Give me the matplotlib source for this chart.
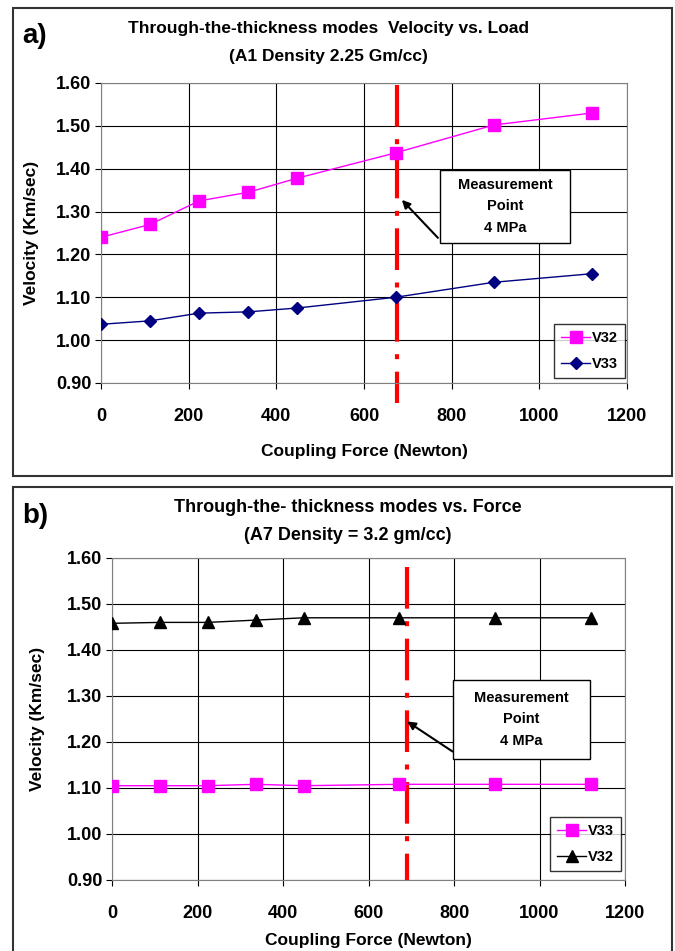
import matplotlib
matplotlib.use('Agg')
import matplotlib.pyplot as plt
from matplotlib.patches import Rectangle

plt.rcParams['font.family'] = ['Liberation Sans', 'DejaVu Sans']
plt.rcParams['font.weight'] = 'bold'

# 数据 (a)
force_a = [0, 112, 224, 336, 448, 672, 896, 1120]
v32_a = [1.24, 1.27, 1.325, 1.345, 1.378, 1.437, 1.502, 1.53]
v33_a = [1.037, 1.045, 1.063, 1.066, 1.075, 1.10, 1.135, 1.155]
mark_a = 675

# 数据 (b)
force_b = [0, 112, 224, 336, 448, 672, 896, 1120]
v33_b = [1.105, 1.105, 1.105, 1.108, 1.105, 1.108, 1.108, 1.108]
v32_b = [1.458, 1.46, 1.46, 1.465, 1.47, 1.47, 1.47, 1.47]
mark_b = 690

y_ticks = [0.90, 1.00, 1.10, 1.20, 1.30, 1.40, 1.50, 1.60]
x_ticks = [0, 200, 400, 600, 800, 1000, 1200]

fig = plt.figure(figsize=(6.75, 9.51), dpi=100)

# 外框
fig.patches.append(Rectangle((13/675, 1-476/951), 659/675, 468/951, transform=fig.transFigure,
                             fill=False, edgecolor='#333333', linewidth=1.5))
fig.patches.append(Rectangle((13/675, 1-960/951), 659/675, 473/951, transform=fig.transFigure,
                             fill=False, edgecolor='#333333', linewidth=1.5))

red_style = (0, (10, 3, 1.2, 3))


def style_axis(ax):
    ax.set_xlim(0, 1200)
    ax.set_ylim(0.90, 1.60)
    ax.set_xticks(x_ticks)
    ax.set_yticks(y_ticks)
    ax.set_yticklabels(['%.2f' % t for t in y_ticks])
    ax.grid(True, color='black', linewidth=0.8)
    ax.set_axisbelow(True)
    for s in ax.spines:
        ax.spines[s].set_color('#808080')
    ax.tick_params(axis='x', direction='out', length=4, pad=14, labelsize=13)
    ax.tick_params(axis='y', direction='out', length=4, pad=3, labelsize=13)
    for lab in ax.get_xticklabels() + ax.get_yticklabels():
        lab.set_fontweight('bold')
    ax.set_xlabel('Coupling Force (Newton)', fontsize=12.5, fontweight='bold')
    ax.set_ylabel('Velocity (Km/sec)', fontsize=12.5, fontweight='bold')


def measure_box(ax, x0, x1, y0, y1):
    ax.add_patch(Rectangle((x0, y0), x1 - x0, y1 - y0, facecolor='white', edgecolor='black',
                           linewidth=1, zorder=6, clip_on=False))
    ax.text((x0 + x1) / 2, (y0 + y1) / 2, 'Measurement\nPoint\n4 MPa', ha='center', va='center',
            fontsize=10.5, fontweight='bold', linespacing=1.7, zorder=7)


# ---- (a) ----
ax1 = fig.add_axes([101/675, 1-383/951, 526/675, 300/951])
ax1.plot(force_a, v32_a, color='#ff00ff', marker='s', markersize=8, linewidth=1, label='V32', zorder=3)
ax1.plot(force_a, v33_a, color='#000080', marker='D', markersize=6, linewidth=1, label='V33', zorder=3)
ax1.plot([mark_a, mark_a], [1.595, 0.853], color='red', linewidth=3, linestyle=red_style,
         clip_on=False, zorder=2)
style_axis(ax1)
ax1.xaxis.labelpad = 14
ax1.yaxis.labelpad = 12
leg = ax1.legend(loc='lower right', bbox_to_anchor=(0.996, 0.017), fontsize=10.5, frameon=True, fancybox=False,
                 edgecolor='black', handlelength=2, borderpad=0.5, labelspacing=0.8, handletextpad=0.1,
                 borderaxespad=0)
leg.get_frame().set_linewidth(1)
measure_box(ax1, 773, 1070, 1.227, 1.397)
ax1.annotate('', xy=(682, 1.332), xytext=(773, 1.234),
             arrowprops=dict(arrowstyle='-|>', color='black', linewidth=1.5, mutation_scale=12), zorder=8)
fig.text(22/675, 1-36/951, 'a)', fontsize=20, fontweight='bold', ha='left', va='center')
fig.text(328/675, 1-28/951, 'Through-the-thickness modes  Velocity vs. Load', fontsize=12.5, fontweight='bold',
         ha='center', va='center')
fig.text(328/675, 1-56/951, '(A1 Density 2.25 Gm/cc)', fontsize=12.5, fontweight='bold',
         ha='center', va='center')

# ---- (b) ----
ax2 = fig.add_axes([112/675, 1-880/951, 513/675, 322/951])
ax2.plot(force_b, v33_b, color='#ff00ff', marker='s', markersize=9, linewidth=1, label='V33', zorder=3)
ax2.plot(force_b, v32_b, color='black', marker='^', markersize=9, linewidth=1, label='V32', zorder=3)
ax2.plot([mark_b, mark_b], [1.58, 0.90], color='red', linewidth=3, linestyle=red_style,
         clip_on=False, zorder=2)
style_axis(ax2)
ax2.xaxis.labelpad = 8
ax2.yaxis.labelpad = 16
leg2 = ax2.legend(loc='lower right', bbox_to_anchor=(0.992, 0.028), fontsize=10.5, frameon=True, fancybox=False,
                  edgecolor='black', handlelength=2, borderpad=0.5, labelspacing=0.8, handletextpad=0.1,
                  borderaxespad=0)
leg2.get_frame().set_linewidth(1)
measure_box(ax2, 798, 1118, 1.163, 1.335)
ax2.annotate('', xy=(685, 1.248), xytext=(802, 1.176),
             arrowprops=dict(arrowstyle='-|>', color='black', linewidth=1.5, mutation_scale=12), zorder=8)
fig.text(22/675, 1-516/951, 'b)', fontsize=20, fontweight='bold', ha='left', va='center')
fig.text(348/675, 1-508/951, 'Through-the- thickness modes vs. Force', fontsize=13, fontweight='bold',
         ha='center', va='center')
fig.text(348/675, 1-535/951, '(A7 Density = 3.2 gm/cc)', fontsize=13, fontweight='bold',
         ha='center', va='center')

fig.savefig('out.png', dpi=100)
